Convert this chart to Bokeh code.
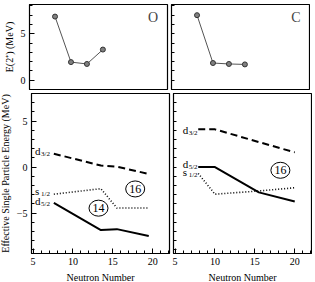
from bokeh.plotting import figure
from bokeh.layouts import column, row
from bokeh.models import Range1d, Label, FixedTicker, ColumnDataSource, Spacer
from bokeh.core.properties import value
from bokeh.embed import file_html
from bokeh.resources import INLINE

# ---------------- data ----------------
N_top = [8, 10, 12, 14]
E2_O = [6.85, 1.95, 1.75, 3.3]
E2_C = [7.0, 1.85, 1.75, 1.7]

N_O = [7.6, 13.5, 15.5, 19.5]
O_d32 = [1.45, 0.17, 0.05, -0.75]
O_s12 = [-2.95, -2.35, -4.45, -4.45]
O_d52 = [-3.9, -6.85, -6.75, -7.5]

N_C = [7.9, 10, 15.5, 20]
C_d32 = [4.1, 4.1, 2.72, 1.6]
C_s12 = [-0.7, -2.95, -2.6, -2.25]
C_d52 = [0.0, 0.0, -2.75, -3.75]

x_ticks = [5, 10, 15, 20]
top_y_ticks = [0, 5]
bot_y_ticks = [-5, 0, 5]

# orbit labels: (letter, subscript, x, y)
O_labels = [("d", "3/2", 5.25, 1.7), ("s", "1/2", 5.25, -2.6), ("d", "5/2", 5.25, -3.65)]
C_labels = [("d", "3/2", 5.95, 4.05), ("d", "5/2", 5.95, 0.3), ("s", "1/2", 5.95, -0.55)]
# shell-closure circles: (text, x, y)
O_circles = [("16", 17.8, -2.38), ("14", 13.2, -4.47)]
C_circles = [("16", 18.2, -0.35)]

SERIF = "Liberation Serif"
XR = (4.8, 22.1)
TOP_YR = (-1.0, 8.15)
BOT_YR = (-9.4, 8.0)


def base(frame_h, yr, left, bottom, top, right, show_x):
    p = figure(frame_width=138, frame_height=frame_h,
               x_range=Range1d(*XR), y_range=Range1d(*yr),
               output_backend="svg", toolbar_location=None,
               x_axis_location="below" if show_x else None,
               min_border_left=left, min_border_right=right,
               min_border_top=top, min_border_bottom=bottom)
    p.xgrid.visible = False
    p.ygrid.visible = False
    p.outline_line_color = "black"
    p.outline_line_width = 1.2
    p.outline_line_alpha = 1
    for ax in p.axis:
        ax.axis_line_color = "black"
        ax.major_tick_in = 5
        ax.major_tick_out = 0
        ax.minor_tick_in = 3
        ax.minor_tick_out = 0
        ax.major_label_text_font = SERIF
        ax.major_label_text_font_size = "10px"
        ax.major_label_text_color = "black"
        ax.axis_label_text_font = SERIF
        ax.axis_label_text_font_style = "normal"
        ax.axis_label_text_color = "black"
    return p


# ---- top-left ----
tl = base(85, TOP_YR, 24, 3, 2, 3, False)
tl.yaxis.ticker = FixedTicker(ticks=top_y_ticks, minor_ticks=list(range(-1, 9)))
tl.yaxis.axis_label = "E(2⁺) (MeV)"
tl.yaxis.axis_label_text_font_size = "10px"
tl.yaxis.major_label_standoff = 4
tl.yaxis.axis_label_standoff = 3
tl.line(N_top, E2_O, line_color="#555555", line_width=1)
tl.scatter(N_top, E2_O, size=5, fill_color="#808080", line_color="#333333", line_width=1)
tl.add_layout(Label(x=20.3, y=6.7, text="O", text_font=SERIF, text_font_size="14px",
                    text_align="center", text_baseline="middle"))

# ---- top-right ----
tr = base(85, TOP_YR, 1, 3, 2, 1, False)
tr.yaxis.ticker = FixedTicker(ticks=[], minor_ticks=list(range(-1, 9)))
tr.yaxis.major_label_standoff = 0
tr.line(N_top, E2_C, line_color="#555555", line_width=1)
tr.scatter(N_top, E2_C, size=5, fill_color="#808080", line_color="#333333", line_width=1)
tr.add_layout(Label(x=20.4, y=6.7, text="C", text_font=SERIF, text_font_size="14px",
                    text_align="center", text_baseline="middle"))


def bottom_panel(p, N, d32, s12, d52, labels, circles):
    p.xaxis.ticker = FixedTicker(ticks=x_ticks, minor_ticks=list(range(5, 23)))
    p.xaxis.axis_label = "Neutron Number"
    p.xaxis.axis_label_text_font_size = "10px"
    p.xaxis.major_label_standoff = 4
    p.xaxis.axis_label_standoff = 4
    p.line(N, d32, line_color="black", line_width=2, line_dash="7 4")
    p.line(N, s12, line_color="black", line_width=1.6, line_dash="1 2")
    p.line(N, d52, line_color="black", line_width=2)
    src = ColumnDataSource(dict(
        let=[l[0] for l in labels], sub=[l[1] for l in labels],
        x=[l[2] for l in labels], y=[l[3] for l in labels]))
    p.text(x="x", y="y", text="let", source=src, text_font=value(SERIF),
           text_font_size="11px", text_align="left", text_baseline="middle")
    p.text(x="x", y="y", text="sub", source=src, text_font=value(SERIF),
           text_font_size="7px", text_align="left", text_baseline="middle",
           x_offset=6, y_offset=3)
    csrc = ColumnDataSource(dict(t=[c[0] for c in circles], x=[c[1] for c in circles],
                                 y=[c[2] for c in circles]))
    p.ellipse(x="x", y="y", width=19, height=16, width_units="screen", height_units="screen",
              source=csrc, fill_color=None, line_color="black", line_width=1)
    p.text(x="x", y="y", text="t", source=csrc, text_font=value(SERIF),
           text_font_size="12px", text_align="center", text_baseline="middle")


bl = base(160, BOT_YR, 28, 27, 1, 3, True)
bl.yaxis.ticker = FixedTicker(ticks=bot_y_ticks, minor_ticks=list(range(-9, 9)))
bl.yaxis.axis_label = "Effective Single Particle Energy (MeV)"
bl.yaxis.axis_label_text_font_size = "10px"
bl.yaxis.major_label_standoff = 4
bl.yaxis.axis_label_standoff = 3
bottom_panel(bl, N_O, O_d32, O_s12, O_d52, O_labels, O_circles)

br = base(160, BOT_YR, 1, 27, 1, 1, True)
br.yaxis.ticker = FixedTicker(ticks=[], minor_ticks=list(range(-9, 9)))
br.yaxis.major_label_standoff = 0
bottom_panel(br, N_C, C_d32, C_s12, C_d52, C_labels, C_circles)

root = column(row(Spacer(width=6, height=90), tl, tr),
              row(Spacer(width=2, height=180), bl, br),
              margin=(2, 0, 0, -6))

open("out.html", "w").write(file_html(root, INLINE))
